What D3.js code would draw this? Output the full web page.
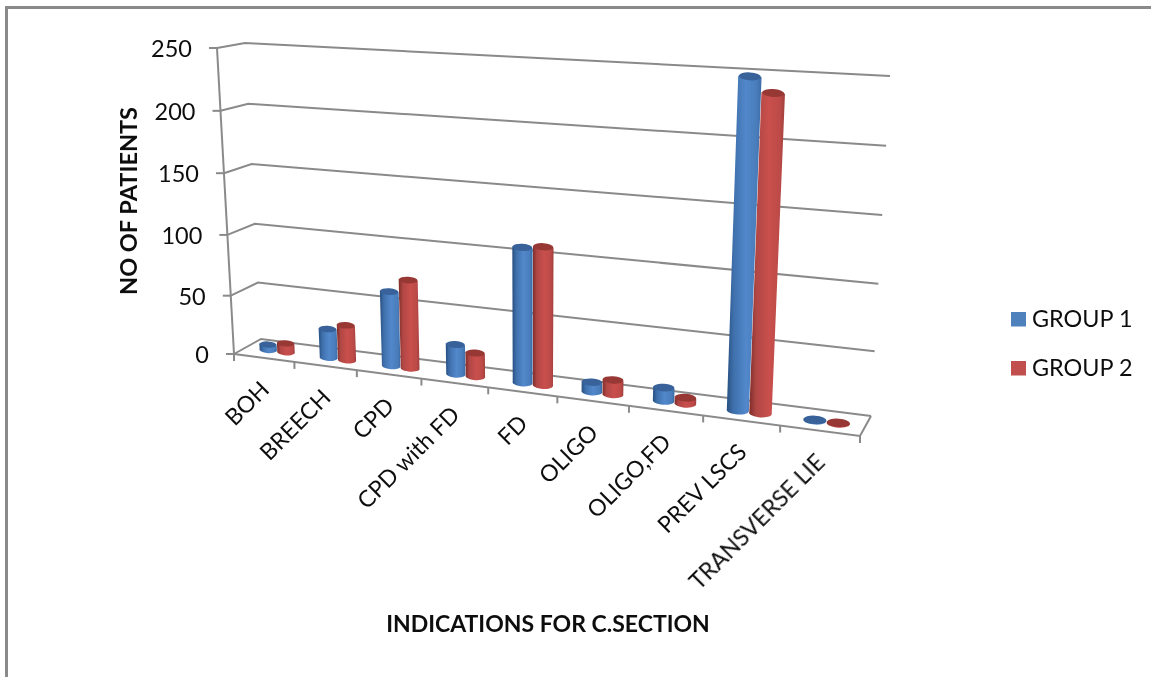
<!DOCTYPE html>
<html>
<head>
<meta charset="utf-8">
<script src="https://cdn.jsdelivr.net/npm/d3@7"></script>
<style>
  html, body { margin: 0; padding: 0; background: #fff; }
  svg { display: block; }
  text { font-family: Lato, "Open Sans", sans-serif; fill: #111; }
</style>
</head>
<body>
<div id="chart"></div>
<script>
const categories = ["BOH", "BREECH", "CPD", "CPD with FD", "FD", "OLIGO", "OLIGO,FD", "PREV LSCS", "TRANSVERSE LIE"];
const group1 = [5, 25, 62, 25, 108, 8, 11, 248, 0.5];
const group2 = [8, 30, 73, 20, 110, 12, 5, 237, 0.5];
const valueTicks = [0, 50, 100, 150, 200, 250];
const seriesNames = ["GROUP 1", "GROUP 2"];

const width = 1151, height = 677;
const gridColor = "#8a8a8a";

const svg = d3.select("#chart").append("svg").attr("width", width).attr("height", height);

// corners of the 3d box on screen
const floorFL = [234, 354], floorFR = [860, 436], floorBL = [261, 339], floorBR = [871, 416];
const topFL = [217, 48], topFR = [880, 85], topBL = [245, 43], topBR = [890, 76];

const lerp = (a, b, t) => [a[0] + (b[0] - a[0]) * t, a[1] + (b[1] - a[1]) * t];

const uScale = d3.scaleBand().domain(categories).range([0, 1]);
const seriesScale = d3.scaleBand().domain(seriesNames).range([-0.031, 0.035]);
const vScale = d3.scalePow().exponent(1.03).domain([0, 250]).range([0, 1]);

// perspective along the long edge, right side is closer
function warp(u) {
  return u / (u + 1.17 * (1 - u));
}

function project(u, depth, value) {
  const t = warp(u);
  const base = lerp(lerp(floorFL, floorFR, t), lerp(floorBL, floorBR, t), depth);
  const top = lerp(lerp(topFL, topFR, t), lerp(topBL, topBR, t), depth);
  return lerp(base, top, vScale(value));
}

const line = d3.line();

// defs
const defs = svg.append("defs");
function addGradient(id, stops) {
  const g = defs.append("linearGradient").attr("id", id);
  stops.forEach(s => g.append("stop").attr("offset", s[0]).attr("stop-color", s[1]));
}
addGradient("blueBody", [[0, "#274f80"], [0.2, "#3f70ac"], [0.55, "#5288cb"], [0.85, "#4a7dbb"], [1, "#3d6ca6"]]);
addGradient("redBody", [[0, "#7e2c2a"], [0.2, "#b04744"], [0.55, "#c9504d"], [0.85, "#bd4b48"], [1, "#a13f3c"]]);
defs.append("filter").attr("id", "soft")
  .attr("filterUnits", "userSpaceOnUse")
  .attr("x", 0).attr("y", 0).attr("width", width).attr("height", height)
  .append("feGaussianBlur").attr("stdDeviation", 0.45);
const topColors = { "GROUP 1": "#376299", "GROUP 2": "#973735" };
const bodyIds = { "GROUP 1": "blueBody", "GROUP 2": "redBody" };
const legendColors = { "GROUP 1": "#4f81bd", "GROUP 2": "#c0504d" };

// outer frame
svg.append("path")
  .attr("d", line([[6.5, 677], [6.5, 7.5], [1151, 7.5]]))
  .attr("fill", "none").attr("stroke", gridColor).attr("stroke-width", 3);

const chart = svg.append("g").attr("filter", "url(#soft)");

// walls and gridlines
const grid = chart.append("g").attr("fill", "none").attr("stroke", gridColor).attr("stroke-width", 2);
valueTicks.forEach(v => {
  const pts = [project(0, 0, v), project(0, 1, v), project(1, 1, v)];
  grid.append("path").attr("d", line(pts));
  const a = project(0, 0, v);
  grid.append("path").attr("d", line([[a[0] - 8, a[1]], a]));
});
grid.append("path").attr("d", line([project(0, 0, 0), project(0, 0, 250)]));
grid.append("path").attr("d", line([project(0, 0, 0), project(1, 0, 0), project(1, 1, 0)]));
grid.append("path").attr("d", line([project(1, 0, 0), [project(1, 0, 0)[0], project(1, 0, 0)[1] + 7]]));
categories.forEach((c, i) => {
  const p = project(i / categories.length, 0, 0);
  grid.append("path").attr("d", line([p, [p[0], p[1] + 7]]));
});

// y tick labels
chart.append("g").selectAll("text").data(valueTicks).join("text")
  .attr("x", d => project(0, 0, d)[0] - 25)
  .attr("y", d => project(0, 0, d)[1] + 9)
  .attr("text-anchor", "end")
  .attr("font-size", 23.5)
  .text(d => d);

// cylinders
const barDepth = 0.46;
const barHalf = 0.0162;
const rows = categories.map((c, i) => [
  { cat: c, series: seriesNames[0], value: group1[i] },
  { cat: c, series: seriesNames[1], value: group2[i] }
]).flat();

function cylinder(d) {
  const u = uScale(d.cat) + uScale.bandwidth() / 2 + seriesScale(d.series) + seriesScale.bandwidth() / 2;
  const bl = project(u - barHalf, barDepth, 0), br = project(u + barHalf, barDepth, 0);
  const tl = project(u - barHalf, barDepth, d.value), tr = project(u + barHalf, barDepth, d.value);
  const rx = (br[0] - bl[0]) / 2, ry = rx * 0.36;
  const angle = Math.atan2(br[1] - bl[1], br[0] - bl[0]) * 180 / Math.PI * 0.5;
  return {
    body: `M${bl}L${tl}L${tr}L${br}A${rx},${ry} ${angle} 0 1 ${bl}Z`,
    cx: (tl[0] + tr[0]) / 2, cy: (tl[1] + tr[1]) / 2, rx, ry, angle
  };
}

const bars = chart.append("g").selectAll("g").data(rows).join("g");
bars.append("path")
  .attr("d", d => cylinder(d).body)
  .attr("fill", d => `url(#${bodyIds[d.series]})`);
bars.append("ellipse")
  .attr("rx", d => cylinder(d).rx)
  .attr("ry", d => cylinder(d).ry)
  .attr("transform", d => {
    const c = cylinder(d);
    return `translate(${c.cx},${c.cy}) rotate(${c.angle})`;
  })
  .attr("fill", d => topColors[d.series]);

// category labels
chart.append("g").selectAll("text").data(categories).join("text")
  .attr("transform", d => {
    const p = project(uScale(d) + uScale.bandwidth() / 2, 0, 0);
    return `translate(${p[0] + 1},${p[1] + 27.5}) rotate(-45)`;
  })
  .attr("text-anchor", "end")
  .attr("dy", "0.35em")
  .attr("font-size", 23)
  .text(d => d);

// axis titles
chart.append("text")
  .attr("x", 548).attr("y", 632)
  .attr("text-anchor", "middle")
  .attr("font-size", 23).attr("font-weight", 700)
  .text("INDICATIONS FOR C.SECTION");
chart.append("text")
  .attr("transform", "translate(137,201) rotate(-90)")
  .attr("text-anchor", "middle")
  .attr("font-size", 23.5).attr("font-weight", 700)
  .text("NO OF PATIENTS");

// legend
const legend = chart.append("g").selectAll("g").data(seriesNames).join("g")
  .attr("transform", (d, i) => `translate(1011,${312 + i * 49})`);
legend.append("rect").attr("width", 15).attr("height", 14.5).attr("fill", d => legendColors[d]);
legend.append("text").attr("x", 21).attr("y", 15).attr("font-size", 23.4).text(d => d);
</script>
</body>
</html>
